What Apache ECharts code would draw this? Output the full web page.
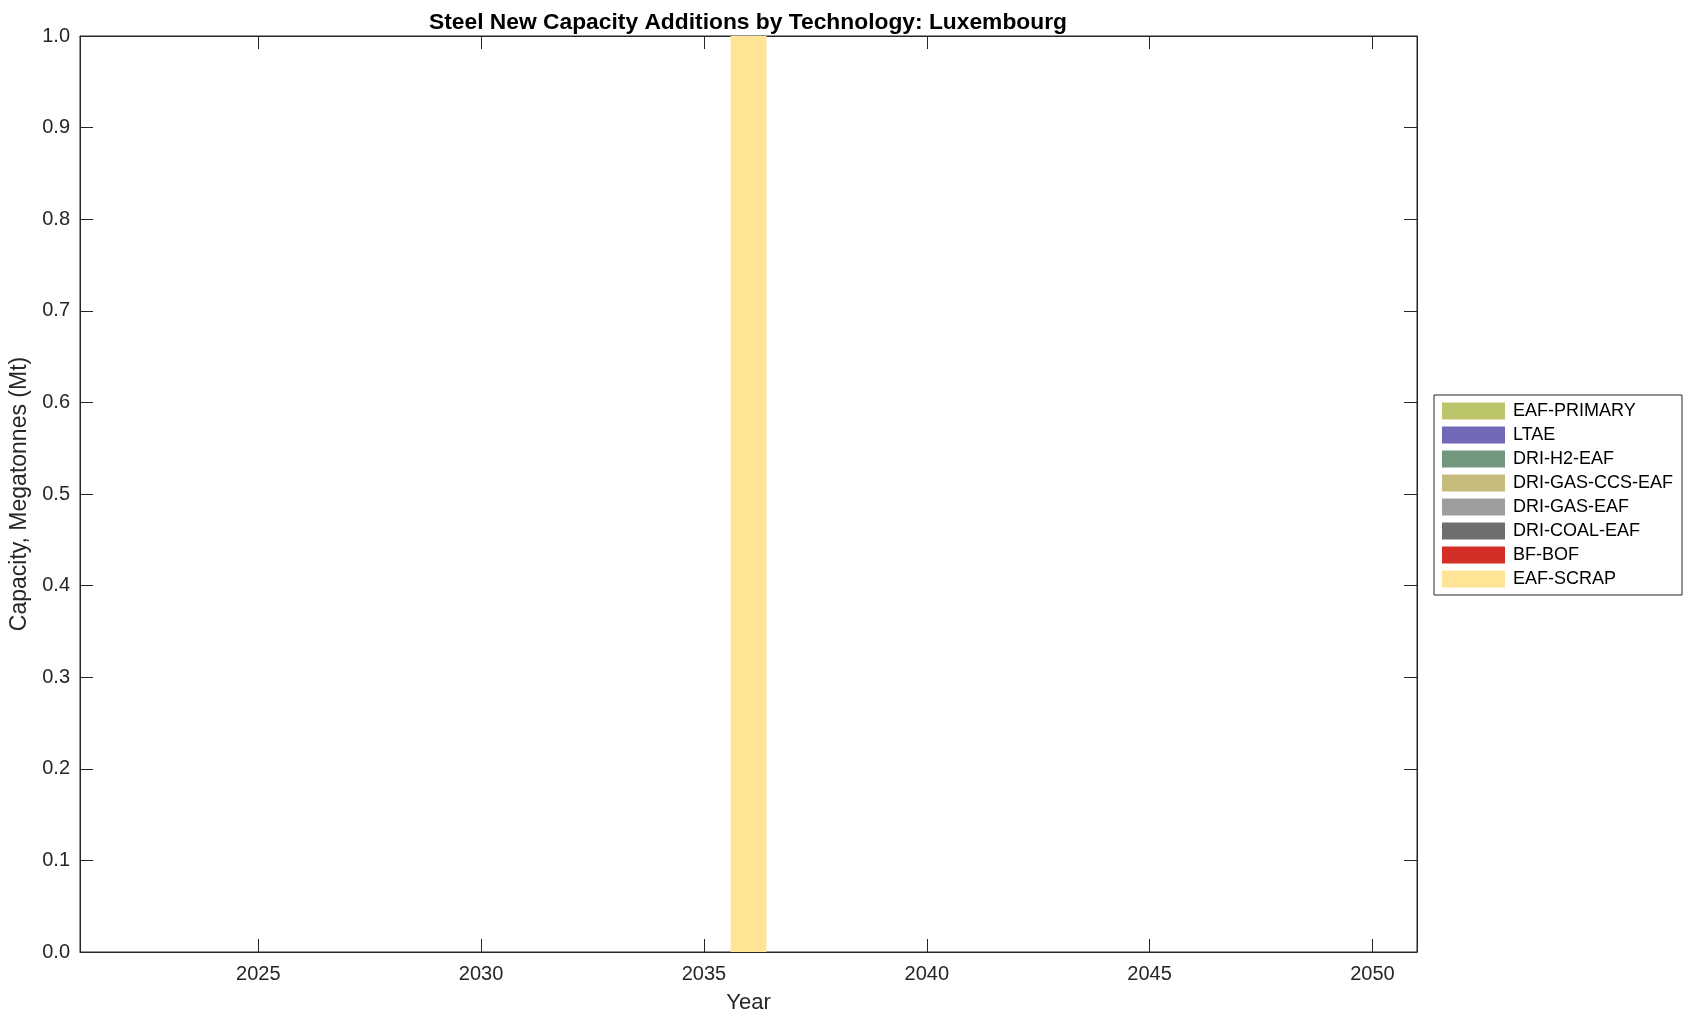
<!DOCTYPE html>
<html>
<head>
<meta charset="utf-8">
<script src="https://cdn.jsdelivr.net/npm/echarts@6/dist/echarts.min.js"></script>
<style>html,body{margin:0;padding:0;background:#fff}#c{width:1696px;height:1021px}</style>
</head>
<body>
<div id="c"></div>
<script>
const years = [2022,2023,2024,2025,2026,2027,2028,2029,2030,2031,2032,2033,2034,2035,2036,2037,2038,2039,2040,2041,2042,2043,2044,2045,2046,2047,2048,2049,2050];
const xTicks = [2025,2030,2035,2040,2045,2050];
const technologies = ['EAF-PRIMARY','LTAE','DRI-H2-EAF','DRI-GAS-CCS-EAF','DRI-GAS-EAF','DRI-COAL-EAF','BF-BOF','EAF-SCRAP'];
const techColors = ['#bdc56b','#7268b8','#72977c','#c4bb7c','#9e9e9e','#6e6e6e','#d32f26','#ffe495'];
const eafScrap    = [0,0,0,0,0,0,0,0,0,0,0,0,0,0,1,0,0,0,0,0,0,0,0,0,0,0,0,0,0];
const bfBof       = [0,0,0,0,0,0,0,0,0,0,0,0,0,0,0,0,0,0,0,0,0,0,0,0,0,0,0,0,0];
const driCoalEaf  = [0,0,0,0,0,0,0,0,0,0,0,0,0,0,0,0,0,0,0,0,0,0,0,0,0,0,0,0,0];
const driGasEaf   = [0,0,0,0,0,0,0,0,0,0,0,0,0,0,0,0,0,0,0,0,0,0,0,0,0,0,0,0,0];
const driGasCcsEaf= [0,0,0,0,0,0,0,0,0,0,0,0,0,0,0,0,0,0,0,0,0,0,0,0,0,0,0,0,0];
const driH2Eaf    = [0,0,0,0,0,0,0,0,0,0,0,0,0,0,0,0,0,0,0,0,0,0,0,0,0,0,0,0,0];
const ltae        = [0,0,0,0,0,0,0,0,0,0,0,0,0,0,0,0,0,0,0,0,0,0,0,0,0,0,0,0,0];
const eafPrimary  = [0,0,0,0,0,0,0,0,0,0,0,0,0,0,0,0,0,0,0,0,0,0,0,0,0,0,0,0,0];
const valuesByTech = {
  'EAF-SCRAP': eafScrap, 'BF-BOF': bfBof, 'DRI-COAL-EAF': driCoalEaf, 'DRI-GAS-EAF': driGasEaf,
  'DRI-GAS-CCS-EAF': driGasCcsEaf, 'DRI-H2-EAF': driH2Eaf, 'LTAE': ltae, 'EAF-PRIMARY': eafPrimary
};
const stackOrder = ['EAF-SCRAP','BF-BOF','DRI-COAL-EAF','DRI-GAS-EAF','DRI-GAS-CCS-EAF','DRI-H2-EAF','LTAE','EAF-PRIMARY'];

const FONT = '"Liberation Sans", Arial, Helvetica, sans-serif';
const AX = '#262626';
const chart = echarts.init(document.getElementById('c'), null, {renderer: 'canvas'});
const series = stackOrder.map(name => ({
  name: name,
  type: 'bar',
  stack: 'total',
  barWidth: 36,
  itemStyle: {color: techColors[technologies.indexOf(name)]},
  emphasis: {disabled: true},
  data: years.map((y, i) => [y, valuesByTech[name][i]])
}));
chart.setOption({
  animation: false,
  backgroundColor: '#ffffff',
  title: {
    text: 'Steel New Capacity Additions by Technology: Luxembourg',
    left: 424, top: 6,
    textStyle: {fontFamily: FONT, fontSize: 22.8, fontWeight: 'bold', color: '#000'}
  },
  grid: {left: 76.5, top: 36, right: 279, bottom: 69, show: true, borderColor: AX, borderWidth: 1, containLabel: false},
  legend: {
    orient: 'vertical',
    left: 1434, top: 395,
    padding: [7, 9, 7, 8],
    backgroundColor: '#fff',
    borderColor: AX, borderWidth: 1, borderRadius: 0,
    itemWidth: 63, itemHeight: 17, itemGap: 6,
    icon: 'rect',
    data: technologies,
    selectedMode: false,
    textStyle: {fontFamily: FONT, fontSize: 18, color: '#000', lineHeight: 17, padding: [0,0,0,3]}
  },
  xAxis: [{
    type: 'value', min: 2021, max: 2051,
    name: 'Year', nameLocation: 'middle', nameGap: 40,
    nameTextStyle: {fontFamily: FONT, fontSize: 22, color: AX},
    axisLine: {show: true, onZero: false, lineStyle: {color: AX, width: 1}},
    axisTick: {show: true, inside: true, length: 13, customValues: xTicks, lineStyle: {color: AX}},
    axisLabel: {show: true, customValues: xTicks, fontFamily: FONT, fontSize: 20, color: AX, margin: 12, formatter: v => String(v)},
    splitLine: {show: false}
  }, {
    type: 'value', min: 2021, max: 2051, position: 'top',
    axisLine: {show: true, onZero: false, lineStyle: {color: AX, width: 1}},
    axisTick: {show: true, inside: true, length: 13, customValues: xTicks, lineStyle: {color: AX}},
    axisLabel: {show: false},
    splitLine: {show: false}
  }],
  yAxis: [{
    type: 'value', min: 0, max: 1, interval: 0.1,
    name: 'Capacity, Megatonnes (Mt)', nameLocation: 'middle', nameGap: 49,
    nameTextStyle: {fontFamily: FONT, fontSize: 23, color: AX},
    axisLine: {show: true, lineStyle: {color: AX, width: 1}},
    axisTick: {show: true, inside: true, length: 13, lineStyle: {color: AX}},
    axisLabel: {fontFamily: FONT, fontSize: 20, color: AX, margin: 10, formatter: v => v.toFixed(1)},
    splitLine: {show: false}
  }, {
    type: 'value', min: 0, max: 1, interval: 0.1, position: 'right',
    axisLine: {show: true, lineStyle: {color: AX, width: 1}},
    axisTick: {show: true, inside: true, length: 13, lineStyle: {color: AX}},
    axisLabel: {show: false},
    splitLine: {show: false}
  }],
  series: series
});
</script>
</body>
</html>
